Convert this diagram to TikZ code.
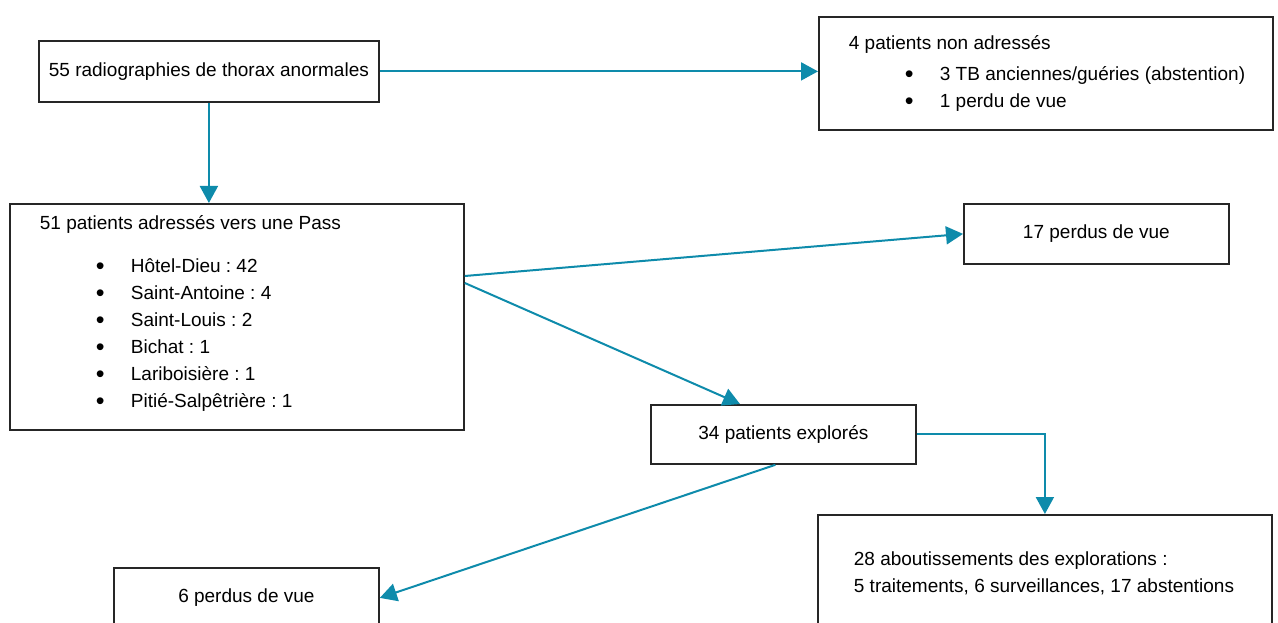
\documentclass[tikz,border=0pt]{standalone}
\usepackage{fontspec}
\setmainfont{Liberation Sans}
\usetikzlibrary{arrows.meta,calc,positioning}
\definecolor{flux}{HTML}{0E8BAB}
\newcommand{\puce}[1]{\hspace*{56pt}\makebox[35pt][l]{\raisebox{-1.8pt}{\fontsize{25}{27}\selectfont\textbullet}}\mbox{#1}}

\begin{document}
\begin{tikzpicture}[
		x=1pt, y=-1pt,
		>={Triangle[length=17pt,width=18pt]},
		font=\fontsize{19}{27}\selectfont\frenchspacing,
		blk/.style={
			draw=black!85, line width=1.8pt, anchor=north west,
			inner sep=0pt, align=center
		},
		lst/.style={blk, align=flush left, inner xsep=30pt, text width=#1},
		fl/.style={->, draw=flux, line width=2pt}
		]
		\useasboundingbox (0,0) rectangle (1278,623);
		\clip (0,0) rectangle (1278,623);
		
		% ---- colonne gauche
		\node[blk, minimum width=340pt, minimum height=61pt] (radio) at (38,40) {55 radiographies de thorax anormales};
		\node[lst=394pt, minimum height=226pt] (adresses) at (9,203) {51 patients adressés vers une Pass\\[16pt]
			\puce{Hôtel-Dieu : 42}\\
			\puce{Saint-Antoine : 4}\\
			\puce{Saint-Louis : 2}\\
			\puce{Bichat : 1}\\
			\puce{Lariboisière : 1}\\
			\puce{Pitié-Salpêtrière : 1}\rule[-10pt]{0pt}{1pt}};
		\node[blk, minimum width=265pt, minimum height=60pt] (perdusB) at (113,567) {6 perdus de vue};
		
		% ---- colonne droite
		\node[lst=394pt, minimum height=113pt] (nonadr) at (818,16) {4 patients non adressés\\[4pt]
			\puce{3 TB anciennes/guéries (abstention)}\\
			\puce{1 perdu de vue}};
		\node[blk, minimum width=265pt, minimum height=60pt] (perdusA) at (963,203) {17 perdus de vue};
		\node[blk, minimum width=265pt, minimum height=59pt] (explores) at (650,404) {34 patients explorés};
		\node[lst=382pt, inner xsep=36pt, minimum height=116pt] (aboutis) at (817,514) {\mbox{28 aboutissements des explorations :}\\
			\mbox{5 traitements, 6 surveillances, 17 abstentions}};
		
		% ---- fleches
		\draw[fl] (radio.east) -- (radio.east -| nonadr.west);
		\draw[fl] (radio.south) -- (radio.south |- adresses.north);
		\draw[fl] ($(adresses.north east)+(0,73)$) -- (perdusA.west);
		\draw[fl] ($(adresses.north east)+(0,80)$) -- ($(explores.north west)+(90,0)$);
		\draw[fl] ($(explores.south)+(-8,0)$) -- (perdusB.east);
		\draw[fl] (explores.east) -| (aboutis.north);
	\end{tikzpicture}
\end{document}
